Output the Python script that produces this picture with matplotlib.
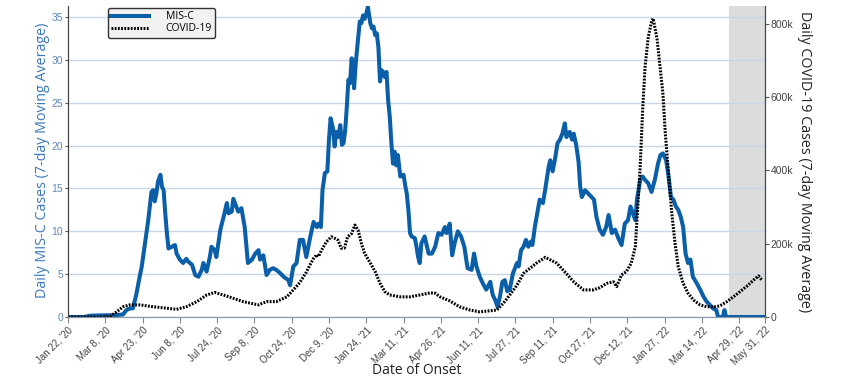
import pandas as pd
import matplotlib.pyplot as plt
import matplotlib.ticker as mticker

plt.rcParams["font.family"] = ["Open Sans", "DejaVu Sans"]

# Days since Jan 22, 2020 and 7-day average of MIS-C cases
misc_days = [0, 20, 27, 45, 56, 68, 72, 76, 80, 84, 88, 91, 95, 99, 103, 105, 107, 109,
             111, 114, 116, 118, 120, 122, 124, 128, 132, 134, 138, 142, 146, 148, 153,
             157, 161, 165, 167, 171, 175, 177, 181, 183, 188, 192, 196, 198, 202, 204,
             206, 210, 214, 218, 222, 227, 231, 235, 237, 241, 245, 249, 253, 257, 262,
             266, 272, 274, 278, 282, 286, 290, 294, 299, 303, 307, 309, 312, 314, 317,
             320, 322, 324, 327, 329, 331, 333, 336, 338, 340, 342, 344, 346, 348, 350,
             352, 353, 355, 358, 360, 362, 364, 366, 368, 370, 373, 375, 377, 379, 381,
             383, 385, 387, 389, 391, 393, 395, 397, 399, 401, 403, 405, 407, 410, 414,
             416, 418, 420, 422, 424, 428, 430, 432, 434, 436, 440, 443, 445, 449, 453,
             457, 461, 465, 467, 469, 471, 474, 477, 481, 485, 489, 493, 498, 501, 504,
             508, 512, 516, 521, 524, 527, 530, 533, 536, 539, 542, 545, 549, 554, 556,
             559, 562, 565, 568, 571, 573, 576, 579, 582, 586, 589, 593, 595, 598, 601,
             604, 607, 610, 613, 615, 619, 622, 624, 627, 630, 632, 634, 638, 642, 646,
             649, 652, 656, 660, 664, 667, 671, 675, 679, 683, 687, 691, 694, 697, 700,
             702, 706, 709, 712, 716, 720, 724, 728, 731, 734, 738, 741, 744, 747, 750,
             753, 756, 759, 762, 765, 768, 771, 776, 780, 784, 788, 792, 796, 800, 802,
             808, 810, 812, 860]
misc_cases = [0, 0, 0.15, 0.2, 0.2, 0.3, 0.8, 1.0, 1.0, 2.5, 4.5, 5.9, 8.6, 11.3, 14.6,
              14.8, 13.5, 14.4, 15.8, 16.6, 15.2, 14.8, 12.1, 9.8, 8.0, 8.2, 8.4, 7.4, 6.7,
              6.3, 6.8, 6.5, 6.1, 4.9, 4.7, 5.5, 6.3, 5.3, 7.0, 8.2, 7.8, 7.0, 10.2, 11.7,
              13.3, 12.1, 12.3, 13.8, 13.3, 12.3, 12.7, 10.5, 6.3, 6.7, 7.4, 7.8, 6.7, 7.2,
              4.9, 5.5, 5.7, 5.5, 5.1, 4.7, 4.3, 3.7, 5.9, 6.3, 9.0, 9.0, 7.0, 9.4, 11.1,
              10.5, 10.9, 10.5, 14.8, 16.8, 17.0, 20.7, 23.2, 22.0, 19.9, 21.6, 21.0, 22.4,
              20.1, 20.3, 21.8, 24.5, 27.7, 27.3, 30.2, 27.8, 26.7, 29.6, 32.5, 34.5, 34.3,
              35.2, 34.8, 35.4, 36.2, 34.3, 33.7, 33.9, 32.9, 33.1, 31.5, 27.5, 28.8, 28.6,
              28.0, 28.6, 25.3, 23.4, 20.3, 17.9, 19.3, 17.7, 18.9, 16.4, 16.6, 15.4, 14.4,
              12.5, 9.8, 9.4, 9.2, 8.2, 7.0, 6.3, 8.6, 9.4, 8.2, 7.4, 7.4, 8.2, 9.8, 9.6,
              10.5, 9.8, 10.2, 10.9, 7.2, 8.6, 10.0, 9.4, 8.2, 5.7, 5.5, 7.4, 5.9, 4.7, 3.9,
              3.2, 4.1, 2.6, 2.0, 1.2, 2.4, 4.1, 4.3, 3.0, 3.2, 5.1, 6.3, 5.9, 7.8, 8.2,
              9.0, 8.2, 8.8, 8.4, 10.5, 12.1, 13.7, 13.3, 15.0, 17.5, 18.3, 17.0, 18.5,
              20.3, 20.7, 21.4, 22.6, 21.0, 21.6, 20.7, 21.4, 20.1, 18.1, 15.2, 14.0, 14.8,
              14.4, 14.0, 13.7, 11.7, 10.2, 9.6, 10.5, 11.9, 9.8, 10.2, 9.2, 8.4, 10.9,
              11.3, 12.9, 12.1, 11.3, 13.7, 16.0, 16.4, 16.0, 15.6, 14.6, 16.0, 17.9, 18.9,
              19.1, 18.3, 16.4, 14.0, 13.7, 12.9, 12.5, 11.7, 10.5, 7.4, 6.3, 6.7, 4.7, 3.9,
              3.2, 2.4, 1.8, 1.4, 1.0, 0.8, 0, 0, 0.8, 0, 0]

# Days since Jan 22, 2020 and 7-day average of COVID-19 cases (thousands)
covid_days = [0, 40, 52, 60, 68, 76, 89, 105, 122, 134, 146, 159, 171, 181, 192, 204, 216,
              235, 245, 257, 270, 278, 286, 290, 294, 298, 303, 307, 309, 313, 319, 325,
              329, 333, 337, 341, 345, 350, 354, 358, 362, 366, 373, 379, 385, 391, 397,
              410, 422, 434, 447, 453, 459, 471, 483, 496, 508, 529, 537, 545, 554, 562,
              570, 578, 589, 595, 603, 611, 624, 636, 648, 656, 665, 673, 677, 683, 689,
              695, 700, 702, 706, 709, 712, 716, 720, 722, 724, 727, 730, 734, 737, 741,
              745, 749, 753, 759, 765, 772, 780, 788, 798, 804, 813, 821, 829, 837, 846,
              852, 856]
covid_cases_k = [0, 0, 2, 14, 28, 33, 33, 28, 24, 21, 28, 42, 60, 67, 60, 51, 42, 33, 42,
                 42, 55, 74, 94, 108, 122, 140, 160, 170, 165, 183, 206, 219, 215, 210,
                 188, 188, 219, 228, 251, 237, 201, 174, 147, 124, 92, 69, 60, 55, 55, 60,
                 66, 65, 55, 44, 28, 19, 14, 19, 37, 60, 87, 119, 133, 147, 163, 156, 147,
                 128, 96, 74, 74, 80, 92, 96, 83, 115, 124, 147, 192, 265, 410, 565, 683,
                 765, 806, 815, 792, 756, 693, 611, 501, 392, 283, 201, 137, 92, 65, 46,
                 33, 28, 28, 30, 42, 55, 69, 83, 101, 112, 101]

tick_labels = ["Jan 22, '20", "Mar 8, '20", "Apr 23, '20", "Jun 8, '20", "Jul 24, '20",
               "Sep 8, '20", "Oct 24, '20", "Dec 9, '20", "Jan 24, '21", "Mar 11, '21",
               "Apr 26, '21", "Jun 11, '21", "Jul 27, '21", "Sep 11, '21", "Oct 27, '21",
               "Dec 12, '21", "Jan 27, '22", "Mar 14, '22", "Apr 29, '22", "May 31, '22"]

shade_start = "2022-04-17"
shade_end = "2022-05-31"

start = pd.Timestamp("2020-01-22")
misc_dates = start + pd.to_timedelta(misc_days, unit="D")
covid_dates = start + pd.to_timedelta(covid_days, unit="D")
tick_dates = pd.to_datetime(tick_labels, format="%b %d, '%y")

blue = "#0b5ea8"
tick_font = ["Liberation Sans", "DejaVu Sans"]

fig = plt.figure(figsize=(8.5, 3.79), dpi=100)
ax = fig.add_axes([0.08, 0.1636, 0.82, 0.8205])
ax2 = ax.twinx()

ax.axvspan(pd.Timestamp(shade_start), pd.Timestamp(shade_end), color="#dcdcdc",
           zorder=0.2, lw=0)
ax.set_axisbelow(True)
ax.grid(axis="y", color="#c9d6e3", linewidth=1)

ax.plot(misc_dates, misc_cases, color=blue, linewidth=2.9, solid_joinstyle="round",
        label="MIS-C")
ax2.plot(covid_dates, [v * 1000 for v in covid_cases_k], color="black", linewidth=2.2,
         linestyle=(0, (0.6, 0.45)), label="COVID-19")

ax.set_xlim(tick_dates[0], tick_dates[-1])
ax.set_ylim(0, 36.3)
ax2.set_ylim(0, 849000)

ax.set_xticks(tick_dates)
ax.set_xticklabels(tick_labels, rotation=45, ha="right", rotation_mode="anchor",
                   fontsize=7, color="#444444", family=tick_font)
ax.set_yticks(range(0, 36, 5))
ax.tick_params(axis="y", labelsize=7.5, labelcolor="#6088b8", color="#555555", length=2,
               pad=1.5)
ax.tick_params(axis="x", color="#888888", length=4, pad=2)
for lab in ax.get_yticklabels():
    lab.set_family(tick_font)

ax2.set_yticks(range(0, 800001, 200000))
ax2.yaxis.set_major_formatter(mticker.FuncFormatter(
    lambda v, p: "0" if v == 0 else f"{int(v / 1000)}k"))
ax2.tick_params(axis="y", labelsize=7.5, labelcolor="#444444", color="#555555", length=3,
                pad=1)
for lab in ax2.get_yticklabels():
    lab.set_family(tick_font)

for a in (ax, ax2):
    a.spines["top"].set_visible(False)
    a.spines["left"].set_color("#444444")
    a.spines["right"].set_color("#444444")
    a.spines["bottom"].set_color("#8a99a8")

ax.set_ylabel("Daily MIS-C Cases (7-day Moving Average)", fontsize=10.3, color="#3a77bd",
              va="center", ha="center")
ax.yaxis.set_label_coords(-0.0366, 0.505)
ax2.set_ylabel("Daily COVID-19 Cases (7-day Moving Average)", fontsize=10.3,
               color="#222222", rotation=270, va="center", ha="center")
ax2.yaxis.set_label_coords(1.056, 0.5)
ax.set_xlabel("Date of Onset", fontsize=10, color="#222222", va="center")
ax.xaxis.set_label_coords(0.5, -0.172)

h1, l1 = ax.get_legend_handles_labels()
h2, l2 = ax2.get_legend_handles_labels()
leg = ax2.legend(h1 + h2, l1 + l2, loc="upper left", bbox_to_anchor=(0.057, 0.995),
                 borderaxespad=0, fontsize=7.5, handlelength=3.6, frameon=True,
                 fancybox=True, facecolor="#f2f2f2", edgecolor="#333333", framealpha=1,
                 labelspacing=0.1, borderpad=0.35, handletextpad=1.6)
leg.get_frame().set_linewidth(1)

plt.savefig("out.png", dpi=100)
